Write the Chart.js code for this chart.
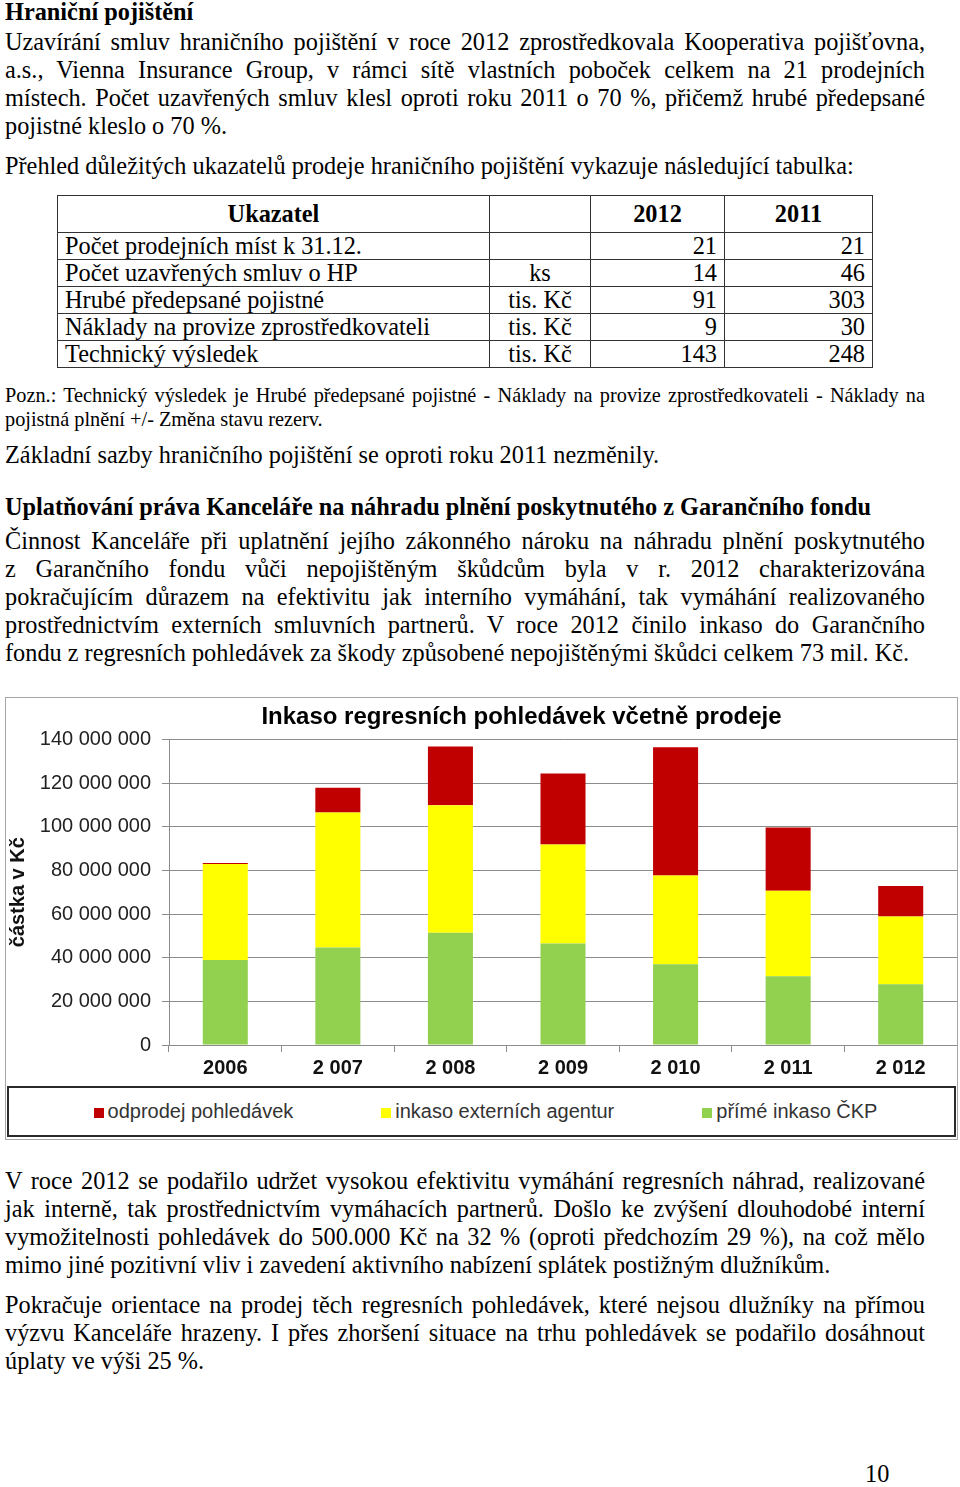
<!DOCTYPE html>
<html lang="cs">
<head>
<meta charset="utf-8">
<title>Hraniční pojištění</title>
<script src="https://cdn.jsdelivr.net/npm/chart.js@4/dist/chart.umd.min.js"></script>
<style>
  html, body { margin: 0; padding: 0; background: #fff; }
  body { width: 960px; height: 1487px; position: relative; overflow: hidden;
         font-family: "Liberation Serif", "Times New Roman", serif; font-size: 24.3px; color: #000; }
  .l { position: absolute; left: 5px; width: 920px; line-height: 28px; white-space: nowrap; }
  .j { text-align: justify; text-align-last: justify; white-space: normal; }
  .b { font-weight: bold; }
  .s { font-size: 20.3px; line-height: 24px; }
  table { position: absolute; left: 57px; top: 195px; border-collapse: collapse; font-size: 24.3px; }
  td { border: 1.5px solid #333; padding: 0 7px; line-height: 24px; height: 26px; white-space: nowrap; }
  tr.h td { height: 36px; font-weight: bold; text-align: center; }
  td.c { text-align: center; }
  td.r { text-align: right; }
  #chartbox { position: absolute; left: 5px; top: 697px; width: 953px; height: 443px;
              border: 1px solid #a6a6a6; box-sizing: border-box; }
  #chartbox canvas { position: absolute; left: 0; top: 0; }
  #legend { position: absolute; left: 1px; top: 388px; width: 949px; height: 51px;
            border: 2px solid #2a2a2a; box-sizing: border-box; display: flex;
            justify-content: center; align-items: center; gap: 88px; padding-left: 8px;
            font-family: "Liberation Sans", Arial, sans-serif; font-size: 20px; color: #333; }
  #legend span.sw { display: inline-block; width: 10px; height: 10px; margin-right: 4px; }
</style>
</head>
<body>

<div class="l b" style="top:-2px">Hraniční pojištění</div>
<div class="l j" style="top:28px">Uzavírání smluv hraničního pojištění v roce 2012 zprostředkovala Kooperativa pojišťovna,</div>
<div class="l j" style="top:56px">a.s., Vienna Insurance Group, v rámci sítě vlastních poboček celkem na 21 prodejních</div>
<div class="l j" style="top:84px">místech. Počet uzavřených smluv klesl oproti roku 2011 o 70 %, přičemž hrubé předepsané</div>
<div class="l" style="top:112px">pojistné kleslo o 70 %.</div>
<div class="l" style="top:152px">Přehled důležitých ukazatelů prodeje hraničního pojištění vykazuje následující tabulka:</div>

<table>
  <tr class="h"><td style="width:417px">Ukazatel</td><td style="width:86px"></td><td style="width:119px">2012</td><td style="width:133px">2011</td></tr>
  <tr><td>Počet prodejních míst k 31.12.</td><td class="c"></td><td class="r">21</td><td class="r">21</td></tr>
  <tr><td>Počet uzavřených smluv o HP</td><td class="c">ks</td><td class="r">14</td><td class="r">46</td></tr>
  <tr><td>Hrubé předepsané pojistné</td><td class="c">tis. Kč</td><td class="r">91</td><td class="r">303</td></tr>
  <tr><td>Náklady na provize zprostředkovateli</td><td class="c">tis. Kč</td><td class="r">9</td><td class="r">30</td></tr>
  <tr><td>Technický výsledek</td><td class="c">tis. Kč</td><td class="r">143</td><td class="r">248</td></tr>
</table>

<div class="l s j" style="top:383px">Pozn.: Technický výsledek je Hrubé předepsané pojistné - Náklady na provize zprostředkovateli - Náklady na</div>
<div class="l s" style="top:407px">pojistná plnění +/- Změna stavu rezerv.</div>
<div class="l" style="top:441px">Základní sazby hraničního pojištění se oproti roku 2011 nezměnily.</div>

<div class="l b" style="top:493px">Uplatňování práva Kanceláře na náhradu plnění poskytnutého z Garančního fondu</div>
<div class="l j" style="top:527px">Činnost Kanceláře při uplatnění jejího zákonného nároku na náhradu plnění poskytnutého</div>
<div class="l j" style="top:555px">z Garančního fondu vůči nepojištěným škůdcům byla v r. 2012 charakterizována</div>
<div class="l j" style="top:583px">pokračujícím důrazem na efektivitu jak interního vymáhání, tak vymáhání realizovaného</div>
<div class="l j" style="top:611px">prostřednictvím externích smluvních partnerů. V roce 2012 činilo inkaso do Garančního</div>
<div class="l" style="top:639px">fondu z regresních pohledávek za škody způsobené nepojištěnými škůdci celkem 73 mil. Kč.</div>

<div id="chartbox">
  <canvas id="chartInkaso" width="951" height="387"></canvas>
  <div id="legend"></div>
</div>

<div class="l j" style="top:1167px">V roce 2012 se podařilo udržet vysokou efektivitu vymáhání regresních náhrad, realizované</div>
<div class="l j" style="top:1195px">jak interně, tak prostřednictvím vymáhacích partnerů. Došlo ke zvýšení dlouhodobé interní</div>
<div class="l j" style="top:1223px">vymožitelnosti pohledávek do 500.000 Kč na 32 % (oproti předchozím 29 %), na což mělo</div>
<div class="l" style="top:1251px">mimo jiné pozitivní vliv i zavedení aktivního nabízení splátek postižným dlužníkům.</div>
<div class="l j" style="top:1291px">Pokračuje orientace na prodej těch regresních pohledávek, které nejsou dlužníky na přímou</div>
<div class="l j" style="top:1319px">výzvu Kanceláře hrazeny. I přes zhoršení situace na trhu pohledávek se podařilo dosáhnout</div>
<div class="l" style="top:1347px">úplaty ve výši 25 %.</div>

<div class="l" style="top:1460px; left:865px; width:auto">10</div>

<script>
// Inkaso regresních pohledávek – stacked bars per year

var years    = ['2006', '2 007', '2 008', '2 009', '2 010', '2 011', '2 012'];
var directCKP = [38900000, 44700000, 51400000, 46500000, 37000000, 31500000, 27800000];
var agencies  = [44000000, 61800000, 58400000, 45400000, 40600000, 39200000, 31100000];
var sales     = [  500000, 11300000, 27000000, 32500000, 58800000, 28900000, 13900000];

var gridGrey = '#8c8c8c';

function spaced(v) {
    return String(v).replace(/\B(?=(\d{3})+(?!\d))/g, ' ');
}

// the Excel title sits a bit right of the canvas centre
var titleShift = {
    id: 'titleShift',
    afterLayout: function (chart) {
        if (chart.titleBlock) chart.titleBlock.left += 80;
    }
};

var chart = new Chart(document.getElementById('chartInkaso'), {
    type: 'bar',
    data: {
        labels: years,
        datasets: [
            { label: 'přímé inkaso ČKP',         data: directCKP, backgroundColor: '#92D050' },
            { label: 'inkaso externích agentur', data: agencies,  backgroundColor: '#FFFF00' },
            { label: 'odprodej pohledávek',      data: sales,     backgroundColor: '#C00000' }
        ]
    },
    options: {
        responsive: false,
        animation: false,
        devicePixelRatio: 1,
        barPercentage: 0.4,
        categoryPercentage: 1,
        layout: { padding: 0 },
        plugins: {
            legend: { display: false },
            tooltip: { enabled: false },
            title: {
                display: true,
                text: 'Inkaso regresních pohledávek včetně prodeje',
                color: '#000',
                font: { family: 'Liberation Sans', size: 24, weight: 'bold' },
                padding: { top: 5, bottom: 7.6 }
            }
        },
        scales: {
            x: {
                stacked: true,
                grid: { drawOnChartArea: false, color: gridGrey, tickLength: 7 },
                border: { color: gridGrey },
                ticks: { color: '#111', padding: 4,
                         font: { family: 'Liberation Sans', size: 20, weight: 'bold' } },
                afterFit: function (s) { s.height = 40; }
            },
            y: {
                stacked: true,
                min: 0,
                max: 140000000,
                grid: { color: gridGrey, tickLength: 7 },
                border: { color: gridGrey },
                ticks: { stepSize: 20000000, color: '#222', padding: 11,
                         font: { family: 'Liberation Sans', size: 20 },
                         callback: function (v) { return spaced(v); } },
                title: { display: true, text: 'částka v Kč', color: '#111', padding: 0,
                         font: { family: 'Liberation Sans', size: 20, weight: 'bold' } },
                afterFit: function (s) { s.width = 163; }
            }
        }
    },
    plugins: [titleShift]
});

// legend in the Excel order: top segment first
var legend = document.getElementById('legend');
chart.data.datasets.slice().reverse().forEach(function (ds) {
    var item = document.createElement('div');
    var sw = document.createElement('span');
    sw.className = 'sw';
    sw.style.background = ds.backgroundColor;
    item.appendChild(sw);
    item.appendChild(document.createTextNode(ds.label));
    legend.appendChild(item);
});
</script>
</body>
</html>
